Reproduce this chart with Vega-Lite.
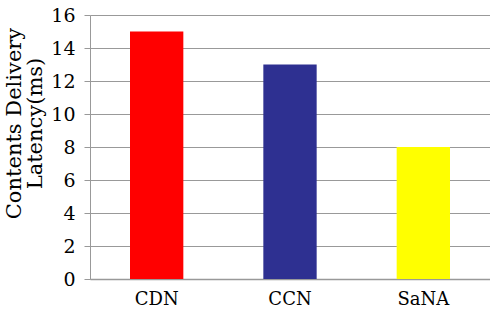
{
  "$schema": "https://vega.github.io/schema/vega-lite/v6.json",
  "width": 400,
  "height": 264,
  "autosize": "none",
  "padding": {"left": 90, "top": 15, "right": 0, "bottom": 34},
  "background": "white",
  "data": {"values": [
    {"system": "CDN", "latency": 15},
    {"system": "CCN", "latency": 13},
    {"system": "SaNA", "latency": 8}
  ]},
  "mark": {"type": "bar"},
  "encoding": {
    "x": {"field": "system", "type": "nominal", "sort": null,
      "scale": {"paddingInner": 0.6, "paddingOuter": 0.3},
      "axis": {"title": null, "labelAngle": 0, "ticks": false, "labelPadding": 11, "labelFont": "DejaVu Serif", "labelFontSize": 18, "labelColor": "black", "domainColor": "#999999", "domainWidth": 1.5}},
    "y": {"field": "latency", "type": "quantitative",
      "scale": {"domain": [0, 16]},
      "axis": {"values": [0, 2, 4, 6, 8, 10, 12, 14, 16], "title": ["Contents Delivery", "Latency(ms)"], "titleFont": "DejaVu Serif", "titleFontSize": 21, "titleFontWeight": "normal", "titleColor": "black", "titlePadding": 5, "titleLineHeight": 21, "titleY": 108, "labelFont": "DejaVu Serif", "labelFontSize": 19, "labelColor": "black", "labelPadding": 9, "tickSize": 6, "tickColor": "#999999", "domainColor": "#999999", "gridColor": "#999999", "gridWidth": 1.2}},
    "color": {"field": "system", "type": "nominal", "legend": null,
      "scale": {"domain": ["CDN", "CCN", "SaNA"], "range": ["#FF0000", "#2E3091", "#FFFF00"]}}
  },
  "config": {"view": {"stroke": null}}
}
